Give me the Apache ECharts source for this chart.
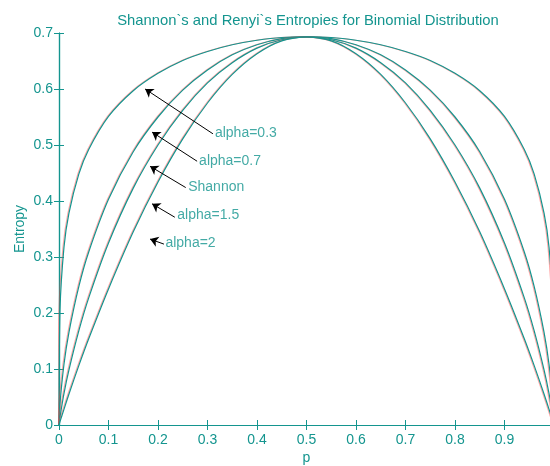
<!DOCTYPE html>
<html>
<head>
<meta charset="utf-8">
<script src="https://cdn.jsdelivr.net/npm/echarts@6/dist/echarts.min.js"></script>
<style>
  html, body { margin: 0; padding: 0; background: #fff; }
  #chart { width: 550px; height: 466px; }
</style>
</head>
<body>
<div id="chart"></div>
<script>
// probability p (x axis)
var pValues = [0, 0.002, 0.01, 0.02, 0.04, 0.06, 0.1, 0.15, 0.2, 0.25, 0.3, 0.35, 0.4, 0.45, 0.5,
               0.55, 0.6, 0.65, 0.7, 0.75, 0.8, 0.85, 0.9, 0.94, 0.96, 0.98, 0.99, 0.998, 1];

// entropy values
var alpha03 = [0, 0.205, 0.317, 0.378, 0.448, 0.492, 0.551, 0.597, 0.628, 0.651, 0.667, 0.679, 0.687, 0.692, 0.693,
               0.692, 0.687, 0.679, 0.667, 0.651, 0.628, 0.597, 0.551, 0.492, 0.448, 0.378, 0.317, 0.205, 0];
var alpha07 = [0, 0.038, 0.108, 0.165, 0.247, 0.309, 0.403, 0.488, 0.550, 0.598, 0.634, 0.661, 0.679, 0.690, 0.693,
               0.690, 0.679, 0.661, 0.634, 0.598, 0.550, 0.488, 0.403, 0.309, 0.247, 0.165, 0.108, 0.038, 0];
var shannon = [0, 0.014, 0.056, 0.098, 0.168, 0.227, 0.325, 0.423, 0.500, 0.562, 0.611, 0.647, 0.673, 0.688, 0.693,
               0.688, 0.673, 0.647, 0.611, 0.562, 0.500, 0.423, 0.325, 0.227, 0.168, 0.098, 0.056, 0.014, 0];
var alpha15 = [0, 0.006, 0.028, 0.055, 0.106, 0.154, 0.243, 0.345, 0.434, 0.511, 0.575, 0.626, 0.663, 0.686, 0.693,
               0.686, 0.663, 0.626, 0.575, 0.511, 0.434, 0.345, 0.243, 0.154, 0.106, 0.055, 0.028, 0.006, 0];

// annotations: label text, label anchor, arrow tail and arrow tip
var noteText  = ['alpha=0.3', 'alpha=0.7', 'Shannon', 'alpha=1.5', 'alpha=2'];
var noteX     = [0.313, 0.281, 0.259, 0.237, 0.213];
var noteY     = [0.522, 0.472, 0.424, 0.374, 0.324];
var tailX     = [0.311, 0.279, 0.256, 0.234, 0.212];
var tailY     = [0.520, 0.471, 0.424, 0.371, 0.323];
var tipX      = [0.174, 0.188, 0.184, 0.188, 0.184];
var tipY      = [0.600, 0.523, 0.462, 0.395, 0.332];

var teal = '#14958f';
var fontFam = 'Liberation Sans, Arial, sans-serif';

function pairs(ys) {
    return pValues.map(function (p, i) { return [p, ys[i]]; });
}

var arrows = noteText.map(function (t, i) {
    return [{ coord: [tailX[i], tailY[i]] }, { coord: [tipX[i], tipY[i]] }];
});
var notes = noteText.map(function (t, i) {
    return { name: t, value: [noteX[i], noteY[i]] };
});

var lineBase = {
    type: 'line',
    showSymbol: false,
    smooth: 0.25,
    lineStyle: { color: teal, width: 1.2, shadowColor: 'rgba(255,60,60,0.45)', shadowOffsetX: -1, shadowBlur: 0 }
};

var axisText = { color: teal, fontSize: 14, fontFamily: fontFam };

var chart = echarts.init(document.getElementById('chart'));
chart.setOption({
    animation: false,
    title: {
        text: 'Shannon`s and Renyi`s Entropies for Binomial Distribution',
        left: 303,
        textAlign: 'center',
        top: 8,
        textStyle: { color: teal, fontSize: 14.8, fontWeight: 'normal', fontFamily: fontFam }
    },
    grid: { left: 59, right: -4, top: 33, bottom: 41, outerBoundsMode: 'none' },
    xAxis: [{
        type: 'value', min: 0, max: 1, interval: 0.1, position: 'bottom',
        name: 'p', nameLocation: 'middle', nameGap: 26, nameMoveOverlap: false, nameTextStyle: axisText,
        axisLine: { lineStyle: { color: teal, width: 1.2 } },
        axisTick: { inside: true, length: 5, lineStyle: { color: teal } },
        axisLabel: Object.assign({ margin: 8, showMaxLabel: false }, axisText),
        splitLine: { show: false }
    }, {
        type: 'value', min: 0, max: 1, interval: 0.1, position: 'top',
        axisLine: { lineStyle: { color: teal, width: 1.2 } },
        axisTick: { inside: true, length: 5, lineStyle: { color: teal } },
        axisLabel: { show: false },
        splitLine: { show: false }
    }],
    yAxis: [{
        type: 'value', min: 0, max: 0.7, interval: 0.1, position: 'left',
        name: 'Entropy', nameLocation: 'middle', nameGap: 32, nameMoveOverlap: false, nameTextStyle: axisText,
        axisLine: { lineStyle: { color: teal, width: 1.2 } },
        axisTick: { inside: true, length: 5, lineStyle: { color: teal } },
        axisLabel: Object.assign({ margin: 6 }, axisText),
        splitLine: { show: false }
    }, {
        type: 'value', min: 0, max: 0.7, interval: 0.1, position: 'right',
        axisLine: { lineStyle: { color: teal, width: 1.2 } },
        axisTick: { inside: true, length: 5, lineStyle: { color: teal } },
        axisLabel: { show: false },
        splitLine: { show: false }
    }],
    series: [
        Object.assign({ name: 'alpha=0.3', data: pairs(alpha03),
            markLine: {
                silent: true, symbol: ['none', 'arrow'], symbolSize: 8,
                lineStyle: { color: '#000', width: 1, type: 'solid' },
                label: { show: false },
                data: arrows
            } }, lineBase),
        Object.assign({ name: 'alpha=0.7', data: pairs(alpha07) }, lineBase),
        Object.assign({ name: 'Shannon', data: pairs(shannon) }, lineBase),
        Object.assign({ name: 'alpha=1.5', data: pairs(alpha15) }, lineBase),
        {
            name: 'notes', type: 'scatter', symbolSize: 0, silent: true,
            data: notes,
            label: {
                show: true, position: 'right', distance: 1,
                formatter: '{b}', color: teal, fontSize: 14, fontFamily: fontFam
            }
        }
    ]
});
</script>
</body>
</html>
